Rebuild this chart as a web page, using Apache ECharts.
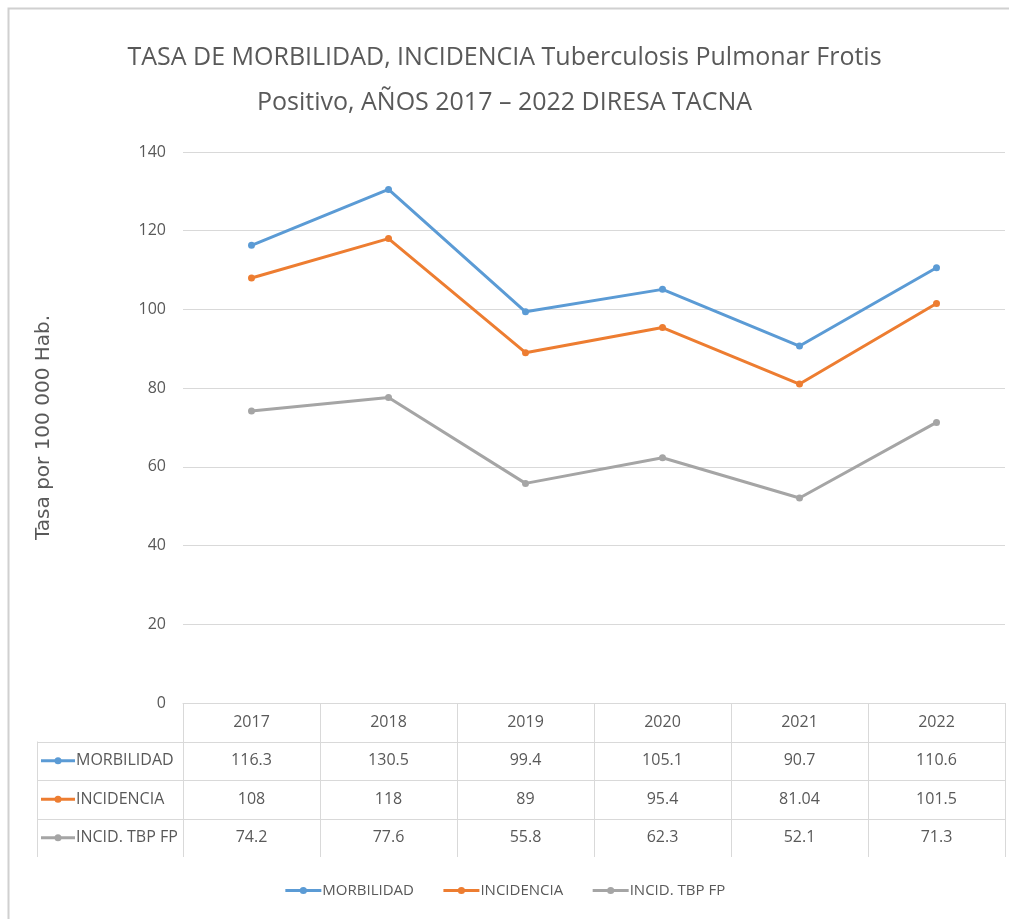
<!DOCTYPE html>
<html>
<head>
<meta charset="utf-8">
<script src="https://cdn.jsdelivr.net/npm/echarts@6/dist/echarts.min.js"></script>
<style>
  html, body { margin: 0; padding: 0; background: #fff; }
  #chart { width: 1009px; height: 919px; }
</style>
</head>
<body>
<div id="chart"></div>
<script>
// Tasas por 100 000 habitantes, DIRESA Tacna 2017-2022
const years = ['2017', '2018', '2019', '2020', '2021', '2022'];
const morbilidad = [116.3, 130.5, 99.4, 105.1, 90.7, 110.6];
const incidencia = [108, 118, 89, 95.4, 81.04, 101.5];
const incidTbpFp = [74.2, 77.6, 55.8, 62.3, 52.1, 71.3];
const seriesNames = ['MORBILIDAD', 'INCIDENCIA', 'INCID. TBP FP'];
const seriesColors = ['#5B9BD5', '#ED7D31', '#A5A5A5'];
const seriesValues = [morbilidad, incidencia, incidTbpFp];

const FONT = "'Open Sans', sans-serif";
const TEXT = '#595959';
const LINE = '#D9D9D9';

const chart = echarts.init(document.getElementById('chart'), null, { renderer: 'canvas' });

const series = seriesNames.map((name, i) => ({
  name: name,
  type: 'line',
  data: seriesValues[i],
  color: seriesColors[i],
  symbol: 'circle',
  symbolSize: 7,
  lineStyle: { width: 3 },
  z: 3
}));

chart.setOption({
  animation: false,
  backgroundColor: '#fff',
  title: {
    text: 'TASA DE MORBILIDAD, INCIDENCIA Tuberculosis Pulmonar Frotis\nPositivo, AÑOS 2017 – 2022 DIRESA TACNA',
    left: 'center',
    top: 30,
    textStyle: { fontFamily: FONT, fontSize: 25, fontWeight: 'normal', color: TEXT, lineHeight: 45 }
  },
  legend: {
    bottom: 16,
    left: 'center',
    itemWidth: 36,
    itemHeight: 9,
    itemGap: 28,
    lineStyle: { width: 3 },
    textStyle: { fontFamily: FONT, fontSize: 15, color: TEXT, padding: [0, 0, 0, -4] },
    data: seriesNames
  },
  grid: { left: 183, right: 4, top: 152, bottom: 216 },
  xAxis: {
    type: 'category',
    data: years,
    boundaryGap: true,
    axisLine: { show: true, lineStyle: { color: LINE, width: 1 } },
    axisTick: { show: true, inside: false, length: 154, interval: 0, lineStyle: { color: LINE } },
    axisLabel: { margin: 11, fontFamily: FONT, fontSize: 16, color: TEXT, interval: 0 }
  },
  yAxis: {
    type: 'value',
    min: 0,
    max: 140,
    interval: 20,
    name: 'Tasa por 100 000 Hab.',
    nameLocation: 'middle',
    nameGap: 129,
    nameTextStyle: { fontFamily: "'DejaVu Sans', Verdana, sans-serif", fontSize: 20, color: TEXT },
    axisLine: { show: false },
    axisTick: { show: false },
    axisLabel: { margin: 17, fontFamily: FONT, fontSize: 16, color: TEXT },
    splitLine: { lineStyle: { color: LINE, width: 1 } }
  },
  series: series
});

// Data table drawn beneath the x axis, aligned to the category columns
function drawTable() {
  const y0 = chart.convertToPixel({ yAxisIndex: 0 }, 0);
  const rowH = 38.5;
  const tableLeft = 37;
  const colCenters = years.map((_, i) => chart.convertToPixel({ xAxisIndex: 0 }, i));
  const colW = colCenters.length > 1 ? colCenters[1] - colCenters[0] : 137;
  const gridLeft = colCenters[0] - colW / 2;
  const gridRight = colCenters[colCenters.length - 1] + colW / 2;
  const els = [];

  // horizontal row borders
  for (let r = 1; r <= seriesNames.length; r++) {
    const y = Math.round(y0 + rowH * r) + 0.5;
    els.push({ type: 'line', shape: { x1: tableLeft, y1: y, x2: gridRight, y2: y },
      style: { stroke: LINE, lineWidth: 1 }, silent: true });
  }
  // vertical borders of the row-header column
  [tableLeft, gridLeft].forEach((x, k) => {
    const xx = Math.round(x) + 0.5;
    els.push({ type: 'line', shape: { x1: xx, y1: k === 0 ? y0 + rowH : y0, x2: xx, y2: y0 + rowH * (seriesNames.length + 1) },
      style: { stroke: LINE, lineWidth: 1 }, silent: true });
  });

  seriesNames.forEach((name, r) => {
    const cy = y0 + rowH * (r + 1) + rowH / 2;
    // legend key: line with dot
    els.push({ type: 'line', shape: { x1: tableLeft + 4, y1: cy, x2: tableLeft + 38, y2: cy },
      style: { stroke: seriesColors[r], lineWidth: 3 }, silent: true });
    els.push({ type: 'circle', shape: { cx: tableLeft + 21, cy: cy, r: 3.5 },
      style: { fill: seriesColors[r] }, silent: true });
    els.push({ type: 'text', x: tableLeft + 39, y: cy,
      style: { text: name, fontFamily: FONT, fontSize: 16, fill: TEXT, verticalAlign: 'middle', align: 'left' }, silent: true });
    // values
    seriesValues[r].forEach((v, c) => {
      els.push({ type: 'text', x: colCenters[c], y: cy,
        style: { text: String(v), fontFamily: FONT, fontSize: 16, fill: TEXT, verticalAlign: 'middle', align: 'center' }, silent: true });
    });
  });

  // outer frame of the chart area
  els.push({ type: 'polyline', shape: { points: [[8.5, 919], [8.5, 8.5], [1009, 8.5]] },
    style: { stroke: '#D0D0D0', lineWidth: 2, fill: null }, silent: true });

  chart.setOption({ graphic: { elements: els } });
}
drawTable();
</script>
</body>
</html>
